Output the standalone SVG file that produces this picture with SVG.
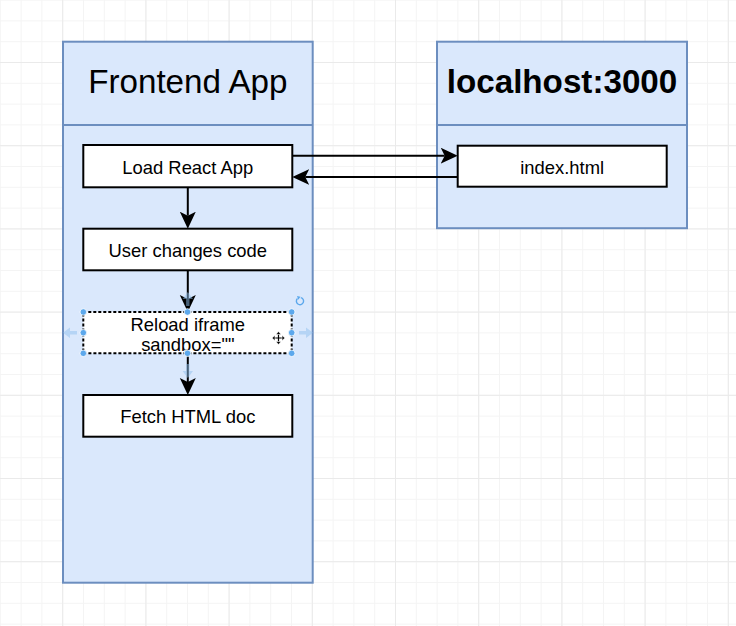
<svg xmlns="http://www.w3.org/2000/svg" width="736" height="626" viewBox="0 0 736 626">
  <defs>
    <pattern id="gridMinor" width="20.8" height="20.8" patternUnits="userSpaceOnUse" x="-0.2" y="-0.4">
      <path d="M 0.5 0 V 20.8 M 0 0.5 H 20.8" fill="none" stroke="#f4f4f4" stroke-width="1"/>
    </pattern>
    <pattern id="gridMajor" width="83.2" height="83.2" patternUnits="userSpaceOnUse" x="62.2" y="62">
      <path d="M 0.5 0 V 83.2 M 0 0.5 H 83.2" fill="none" stroke="#eaeaea" stroke-width="1"/>
    </pattern>
    <marker id="arrow" markerUnits="userSpaceOnUse" markerWidth="20" markerHeight="20" refX="4" refY="8" orient="auto">
      <path d="M 0 0 L 17 8 L 0 16 L 4 8 Z" fill="#000"/>
    </marker>
    <style>
      .container { fill: #dae8fc; stroke: #6c8ebf; stroke-width: 2; }
      .node { fill: #ffffff; stroke: #000000; stroke-width: 2; }
      .title { font-family: "Liberation Sans", Arial, sans-serif; font-size: 33.2px; fill: #000; text-anchor: middle; }
      .label { font-family: "Liberation Sans", Arial, sans-serif; font-size: 18.4px; fill: #000; text-anchor: middle; }
      .edge { fill: none; stroke: #000; stroke-width: 2; marker-end: url(#arrow); }
      .handle { fill: #5ca8ec; stroke: #ffffff; stroke-width: 0.8; }
      .hover { fill: #8fc0ee; opacity: 0.5; }
    </style>
  </defs>

  <rect x="0" y="0" width="736" height="626" fill="#ffffff"/>
  <rect x="0" y="0" width="736" height="626" fill="url(#gridMinor)"/>
  <rect x="0" y="0" width="736" height="626" fill="url(#gridMajor)"/>

  <g id="frontend-app">
    <rect class="container" x="63" y="41.7" width="249.7" height="541"/>
    <line x1="63" y1="125" x2="312.7" y2="125" stroke="#6c8ebf" stroke-width="2"/>
    <text class="title" x="187.8" y="92.7">Frontend App</text>
  </g>

  <g id="localhost">
    <rect class="container" x="437" y="41.7" width="250" height="186.5"/>
    <line x1="437" y1="125" x2="687" y2="125" stroke="#6c8ebf" stroke-width="2"/>
    <text class="title" x="562" y="93.3" font-weight="bold">localhost:3000</text>
  </g>

  <g id="load-react-app">
    <rect class="node" x="83.3" y="145" width="209" height="42.3"/>
    <text class="label" x="187.8" y="173.5">Load React App</text>
  </g>

  <g id="index-html">
    <rect class="node" x="457.7" y="145.7" width="209" height="41"/>
    <text class="label" x="562.2" y="173.5">index.html</text>
  </g>

  <g id="user-changes-code">
    <rect class="node" x="83.3" y="228.7" width="209" height="41.6"/>
    <text class="label" x="187.8" y="256.5">User changes code</text>
  </g>

  <g id="fetch-html-doc">
    <rect class="node" x="83.3" y="395" width="209" height="41.7"/>
    <text class="label" x="187.8" y="423">Fetch HTML doc</text>
  </g>

  <g id="connectors">
    <line class="edge" x1="292.3" y1="155.7" x2="444.7" y2="155.7"/>
    <line class="edge" x1="457.7" y1="177" x2="305.3" y2="177"/>
    <line class="edge" x1="187.8" y1="187.3" x2="187.8" y2="215.7"/>
    <line class="edge" x1="187.8" y1="270.3" x2="187.8" y2="299"/>
    <line class="edge" x1="187.8" y1="353.3" x2="187.8" y2="382"/>
  </g>

  <g id="reload-iframe">
    <path class="hover" d="M 63 332.7 L 70 327.5 L 70 331 L 77 331 L 77 334.4 L 70 334.4 L 70 338 Z"/>
    <path class="hover" d="M 313 332.7 L 306 327.5 L 306 331 L 299 331 L 299 334.4 L 306 334.4 L 306 338 Z"/>
    <path class="hover" d="M 187.8 292 L 182.6 299 L 186.1 299 L 186.1 306 L 189.5 306 L 189.5 299 L 193 299 Z"/>
    <path class="hover" d="M 187.8 378 L 182.6 371 L 186.1 371 L 186.1 364 L 189.5 364 L 189.5 371 L 193 371 Z"/>
    <rect x="83.3" y="312" width="208.4" height="41.3" fill="#ffffff" stroke="#000" stroke-width="2" stroke-dasharray="3 2"/>
    <text class="label" x="187.8" y="330.5">Reload iframe</text>
    <text class="label" x="187.8" y="351">sandbox=""</text>
    <circle class="handle" cx="83.3" cy="312" r="3.3"/>
    <circle class="handle" cx="187.5" cy="312" r="3.3"/>
    <circle class="handle" cx="291.7" cy="312" r="3.3"/>
    <circle class="handle" cx="83.3" cy="332.7" r="3.3"/>
    <circle class="handle" cx="291.7" cy="332.7" r="3.3"/>
    <circle class="handle" cx="83.3" cy="353.3" r="3.3"/>
    <circle class="handle" cx="187.5" cy="353.3" r="3.3"/>
    <circle class="handle" cx="291.7" cy="353.3" r="3.3"/>
    <path d="M 297.5 298.5 A 3.6 3.6 0 1 0 300.8 297.6" fill="none" stroke="#5ca8ec" stroke-width="1.4"/>
    <path d="M 297 296 L 300.5 296.8 L 298.3 299.8 Z" fill="#5ca8ec"/>
    <g transform="translate(278.5 338)">
      <path d="M 0 -6 V 6 M -6 0 H 6" stroke="#ffffff" stroke-width="3.2"/>
      <path d="M 0 -5 V 5 M -5 0 H 5" stroke="#000" stroke-width="1.2"/>
      <path d="M 0 -6.5 L -2.5 -3.5 L 2.5 -3.5 Z M 0 6.5 L -2.5 3.5 L 2.5 3.5 Z M -6.5 0 L -3.5 -2.5 L -3.5 2.5 Z M 6.5 0 L 3.5 -2.5 L 3.5 2.5 Z" fill="#000" stroke="#fff" stroke-width="0.6"/>
    </g>
  </g>
</svg>
